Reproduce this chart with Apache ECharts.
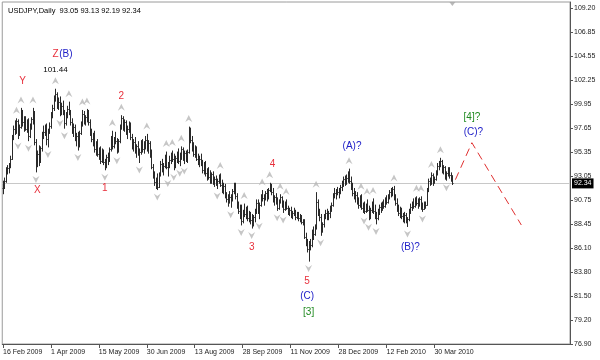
<!DOCTYPE html>
<html><head><meta charset="utf-8">
<script src="https://cdn.jsdelivr.net/npm/echarts@6/dist/echarts.min.js"></script>
<style>html,body{margin:0;padding:0;background:#fff}#c{width:600px;height:360px}</style>
</head><body><div id="c"></div>
<script>
const symbolName = 'USDJPY,Daily';
const openP = [91.9,92.3,92.6,93.6,93.8,94.1,94.7,96.8,97.6,97.4,98.3,97.2,97.8,99.2,98.2,98.5,97.6,98.2,96.9,97.9,98.5,98.9,96.3,94.3,95.2,94.6,95.7,97.1,97.3,97.8,96.6,97.4,97.9,98.9,99.6,100.5,100.9,99.9,100.2,99.3,99.8,99.1,98.1,98.9,99.5,99.1,98.2,97.4,97.8,96.7,96.9,96.0,97.2,98.1,99.0,98.3,98.7,99.2,98.2,97.2,96.6,96.9,95.6,96.1,95.2,95.5,94.5,95.4,94.4,94.0,94.9,94.6,95.6,96.7,95.9,96.5,96.4,95.5,96.4,97.8,98.6,97.7,98.2,97.3,97.6,97.9,96.8,95.9,96.3,95.5,95.9,95.3,95.4,96.2,95.6,96.1,96.5,95.8,96.2,95.0,93.9,93.1,92.5,92.6,92.0,93.2,94.2,93.7,94.0,94.9,93.9,94.2,94.6,95.0,94.7,94.0,94.8,95.1,94.5,95.0,95.6,94.8,95.3,94.6,95.4,97.5,96.5,95.7,95.2,95.6,94.7,94.4,94.7,94.3,93.6,94.1,93.3,93.5,93.0,92.6,93.2,92.5,92.8,92.3,92.6,93.0,92.2,91.7,92.1,91.2,90.8,90.9,91.0,90.9,91.6,92.0,91.1,90.2,89.7,90.0,88.7,89.6,89.4,89.8,89.0,89.4,88.8,88.3,89.1,89.7,90.5,89.8,90.3,91.1,90.9,91.0,91.4,90.9,91.7,92.2,91.5,90.8,91.0,90.5,90.0,90.6,91.0,90.2,89.9,90.3,90.0,89.5,89.8,89.3,89.5,89.7,89.1,89.4,89.0,89.1,88.6,88.7,87.2,86.6,86.0,86.2,86.4,87.6,87.5,88.1,90.6,89.5,89.1,87.8,88.4,89.2,89.5,89.0,89.5,89.9,90.3,91.2,91.4,91.6,91.5,91.7,92.0,92.3,92.8,92.4,92.9,93.1,92.6,92.0,91.4,91.1,91.2,90.6,90.3,90.9,90.0,90.2,89.7,90.1,89.8,89.1,89.8,90.3,89.7,89.2,89.0,89.6,90.1,89.9,90.4,90.2,90.8,90.6,91.1,91.5,91.3,91.8,91.0,90.5,89.9,89.5,89.8,89.2,88.9,89.3,88.7,88.9,89.7,90.1,90.4,90.2,90.7,90.5,90.3,90.8,90.1,89.9,90.4,90.3,91.7,92.6,92.4,93.1,92.5,92.8,93.4,94.0,94.2,94.5,93.6,93.9,93.0,93.3,93.7,93.1,93.05];
const highP = [92.6,92.9,93.9,94.1,94.3,95.0,97.0,97.9,98.4,98.6,98.5,98.0,99.6,99.4,98.8,98.8,98.5,98.6,98.1,98.7,99.6,99.3,96.6,95.5,96.0,95.9,97.3,97.9,98.0,98.1,97.6,98.2,99.2,99.9,100.8,101.44,101.1,100.6,100.7,100.1,100.3,99.4,99.2,99.8,100.2,99.4,98.6,98.1,98.0,97.2,97.3,97.4,98.3,99.4,99.3,98.9,99.5,99.4,98.5,97.6,97.2,97.4,96.4,96.6,95.8,95.9,95.7,95.6,94.7,95.1,95.3,95.8,96.9,97.4,96.8,97.3,96.7,96.6,98.0,98.9,98.8,98.5,98.4,97.9,98.3,98.2,97.1,96.6,96.8,96.1,96.4,95.7,96.5,96.6,96.4,96.9,97.1,96.5,96.4,95.6,94.2,93.5,92.9,93.3,93.4,94.5,94.7,94.3,95.1,95.4,94.4,95.0,95.3,95.5,95.2,95.0,95.4,95.7,95.3,95.9,95.8,95.5,95.5,95.6,97.8,97.7,96.9,96.3,96.0,95.9,95.2,95.0,95.2,94.6,94.4,94.5,93.8,93.9,93.6,93.4,93.5,93.0,93.1,92.8,93.2,93.3,92.7,92.4,92.3,91.5,91.3,91.6,91.3,91.8,92.4,92.4,91.4,90.6,90.3,90.3,89.8,90.4,90.1,90.2,89.7,89.6,89.4,89.3,89.9,90.8,90.8,90.5,91.3,91.7,91.3,91.6,91.8,91.9,92.4,92.3,91.9,91.2,91.4,91.0,90.8,91.3,91.1,90.7,90.6,90.8,90.2,90.0,90.1,89.7,90.0,89.8,89.6,89.6,89.4,89.3,88.9,88.9,87.6,87.0,86.8,87.0,87.9,88.2,88.4,91.5,90.8,89.9,89.4,88.6,89.4,89.8,89.9,89.7,90.2,90.5,91.4,91.9,91.8,92.0,91.9,92.2,92.6,93.0,93.1,93.2,93.5,93.76,93.0,92.4,91.9,91.6,91.5,91.0,91.2,91.3,90.5,90.6,90.4,90.8,90.2,90.0,90.6,90.9,90.3,89.6,89.9,90.3,90.5,90.6,90.8,91.0,91.2,91.3,91.7,91.9,92.0,92.1,91.3,90.9,90.3,90.1,90.0,89.5,89.6,89.5,89.1,89.9,90.4,90.6,90.9,91.0,91.1,90.9,91.0,91.1,90.5,90.6,90.6,91.9,92.8,92.9,93.4,93.3,93.0,93.6,94.3,94.5,94.8,94.6,94.1,94.0,93.5,93.9,93.9,93.4,93.13];
const lowP = [91.3,91.8,92.4,93.2,93.3,93.8,94.6,96.5,97.0,97.1,96.6,96.9,97.6,97.8,97.3,97.4,97.2,96.4,96.7,97.5,98.0,96.0,93.4,93.9,94.0,94.3,95.4,96.6,96.9,96.0,95.8,97.1,97.6,98.6,99.3,100.2,99.5,99.4,98.8,98.9,98.9,97.6,97.9,98.6,98.9,97.9,97.1,96.8,96.4,95.9,95.5,95.8,97.0,97.8,98.0,97.9,98.2,97.9,96.9,96.3,95.9,95.3,95.0,94.9,94.6,94.2,94.3,94.1,93.6,93.8,94.1,94.4,95.4,95.6,95.7,96.1,95.2,95.3,96.2,97.5,97.4,97.3,97.0,96.6,97.2,96.5,95.6,95.4,95.2,94.8,95.0,94.3,95.1,95.3,95.2,95.6,95.4,95.2,94.8,93.7,92.8,92.1,91.8,91.7,91.9,93.0,93.4,93.1,93.8,93.7,93.0,93.8,94.2,94.4,93.6,93.8,94.3,94.2,94.0,94.6,94.5,94.2,94.4,94.3,95.2,96.2,95.4,94.9,94.8,94.5,94.1,93.9,94.0,93.3,93.2,93.0,92.6,92.7,92.3,92.3,92.2,92.0,92.1,91.8,92.3,92.0,91.4,91.3,90.9,90.5,90.1,90.4,90.0,90.6,91.3,90.8,89.9,89.4,88.9,88.3,88.5,89.1,88.9,88.7,88.6,88.4,88.0,88.2,88.6,89.4,89.4,88.9,90.1,90.6,90.2,90.7,90.6,90.8,91.5,91.2,90.5,90.2,90.3,89.7,89.8,90.4,90.0,89.5,89.7,89.8,89.3,89.2,89.0,88.9,89.2,88.8,88.9,88.7,88.6,88.4,88.3,87.0,86.3,85.7,84.82,85.9,86.2,86.9,87.3,87.9,89.2,88.7,87.3,87.6,88.1,88.9,88.8,88.8,89.0,89.6,90.1,90.9,90.8,91.2,90.9,91.3,91.6,92.0,92.1,92.2,92.4,92.3,91.7,91.1,90.8,90.5,90.3,89.9,90.0,89.8,89.5,89.4,89.5,89.6,88.8,88.9,89.5,89.4,88.9,88.4,88.8,89.3,89.5,89.7,89.9,90.0,90.3,90.4,90.8,91.0,91.1,90.7,90.2,89.6,89.2,89.0,88.9,88.6,88.5,88.5,88.15,88.7,89.4,89.7,89.9,90.0,90.2,89.9,90.1,89.8,89.6,89.8,89.9,90.2,91.5,92.1,92.2,92.1,92.3,92.6,93.1,93.6,93.9,93.3,93.2,92.7,92.6,93.0,92.8,92.5,92.19];
const closeP = [92.3,92.6,93.6,93.8,94.1,94.7,96.8,97.6,97.4,98.3,97.2,97.8,99.2,98.2,98.5,97.6,98.2,96.9,97.9,98.5,98.9,96.3,94.3,95.2,94.6,95.7,97.1,97.3,97.8,96.6,97.4,97.9,98.9,99.6,100.5,100.9,99.9,100.2,99.3,99.8,99.1,98.1,98.9,99.5,99.1,98.2,97.4,97.8,96.7,96.9,96.0,97.2,98.1,99.0,98.3,98.7,99.2,98.2,97.2,96.6,96.9,95.6,96.1,95.2,95.5,94.5,95.4,94.4,94.0,94.9,94.6,95.6,96.7,95.9,96.5,96.4,95.5,96.4,97.8,98.6,97.7,98.2,97.3,97.6,97.9,96.8,95.9,96.3,95.5,95.9,95.3,95.4,96.2,95.6,96.1,96.5,95.8,96.2,95.0,93.9,93.1,92.5,92.6,92.0,93.2,94.2,93.7,94.0,94.9,93.9,94.2,94.6,95.0,94.7,94.0,94.8,95.1,94.5,95.0,95.6,94.8,95.3,94.6,95.4,97.5,96.5,95.7,95.2,95.6,94.7,94.4,94.7,94.3,93.6,94.1,93.3,93.5,93.0,92.6,93.2,92.5,92.8,92.3,92.6,93.0,92.2,91.7,92.1,91.2,90.8,90.9,91.0,90.9,91.6,92.0,91.1,90.2,89.7,90.0,88.7,89.6,89.4,89.8,89.0,89.4,88.8,88.3,89.1,89.7,90.5,89.8,90.3,91.1,90.9,91.0,91.4,90.9,91.7,92.2,91.5,90.8,91.0,90.5,90.0,90.6,91.0,90.2,89.9,90.3,90.0,89.5,89.8,89.3,89.5,89.7,89.1,89.4,89.0,89.1,88.6,88.7,87.2,86.6,86.0,86.2,86.4,87.6,87.5,88.1,90.6,89.5,89.1,87.8,88.4,89.2,89.5,89.0,89.5,89.9,90.3,91.2,91.4,91.6,91.5,91.7,92.0,92.3,92.8,92.4,92.9,93.1,92.6,92.0,91.4,91.1,91.2,90.6,90.3,90.9,90.0,90.2,89.7,90.1,89.8,89.1,89.8,90.3,89.7,89.2,89.0,89.6,90.1,89.9,90.4,90.2,90.8,90.6,91.1,91.5,91.3,91.8,91.0,90.5,89.9,89.5,89.8,89.2,88.9,89.3,88.7,88.9,89.7,90.1,90.4,90.2,90.7,90.5,90.3,90.8,90.1,89.9,90.4,90.3,91.7,92.6,92.4,93.1,92.5,92.8,93.4,94.0,94.2,94.5,93.6,93.9,93.0,93.3,93.7,93.1,93.05,92.34];

const xTickLabels = ['16 Feb 2009','1 Apr 2009','15 May 2009','30 Jun 2009','13 Aug 2009','28 Sep 2009','11 Nov 2009','28 Dec 2009','12 Feb 2010','30 Mar 2010'];
const barsPerTick = 32;
const slotCount = 379;
const yTickLabels = ['76.90','79.20','81.50','83.80','86.10','88.45','90.75','93.05','95.35','97.65','99.95','102.25','104.55','106.85','109.20'];
const yMin = 76.90, yMax = 109.78;

const projX = [302, 313, 346];
const projY = [92.7, 96.25, 88.34];

const waveText   = ['Y','Z','(B)','101.44','2','X','1','4','(A)?','3','5','(C)','[3]','(B)?','[4]?','(C)?'];
const waveX      = [13,35,42,35,79,23,68,180,233,166,203,203,204,272,313,314];
const waveY      = [102.12,104.75,104.75,103.31,100.74,91.70,91.87,94.20,95.87,86.20,82.96,81.45,79.91,86.20,98.69,97.25];
const waveDegree = ['minor','minor','inter','price','minor','minor','minor','minor','inter','minor','minor','inter','primary','inter','primary','inter'];

const FONT = 'Liberation Sans, Arial, sans-serif';
const degreeColor = {minor:'#e8303c', inter:'#2020c8', primary:'#208a20', price:'#000'};

const n = closeP.length;
const slots = [];
for (let i = 0; i < slotCount; i++) slots.push(String(i));
const ohlc = [];
for (let i = 0; i < n; i++) ohlc.push([i, openP[i], closeP[i], lowP[i], highP[i]]);

const upFr = [], dnFr = [];
for (let i = 2; i < n - 2; i++) {
  if (highP[i] > highP[i-1] && highP[i] > highP[i-2] && highP[i] > highP[i+1] && highP[i] > highP[i+2]) upFr.push([i, highP[i]]);
  if (lowP[i] < lowP[i-1] && lowP[i] < lowP[i-2] && lowP[i] < lowP[i+1] && lowP[i] < lowP[i+2]) dnFr.push([i, lowP[i]]);
}
const yVals = yTickLabels.map(parseFloat);
const tickShown = (i) => i % barsPerTick === 0 && (i / barsPerTick) < xTickLabels.length;

const waveData = waveText.map((t, k) => [waveX[k], waveY[k], k]);

const last = n - 1;
const titleText = symbolName + '  ' + [openP[last], highP[last], lowP[last], closeP[last]].map(v => v.toFixed(2)).join(' ');

const chart = echarts.init(document.getElementById('c'), null, {renderer: 'canvas'});
chart.setOption({
  animation: false,
  backgroundColor: '#fff',
  title: {text: titleText, left: 3, top: 2, textStyle: {fontSize: 7.5, fontWeight: 'normal', color: '#000', fontFamily: FONT}},
  grid: {left: 2, right: 30, top: 2, bottom: 16, show: true, borderColor: '#9a9a9a', borderWidth: 1, containLabel: false},
  xAxis: {
    type: 'category', data: slots, boundaryGap: true,
    axisLine: {show: true, lineStyle: {color: '#555', width: 1}},
    axisTick: {show: true, interval: (i) => tickShown(i), alignWithLabel: true, length: 4, lineStyle: {color: '#555'}},
    axisLabel: {interval: (i) => tickShown(i), formatter: (v, i) => tickShown(i) ? xTickLabels[i / barsPerTick] : '',
      align: 'left', fontSize: 7, color: '#222', margin: 5, fontFamily: FONT},
    splitLine: {show: false}
  },
  yAxis: {
    type: 'value', position: 'right', min: yMin, max: yMax,
    axisLine: {show: true, lineStyle: {color: '#555', width: 1}},
    axisTick: {show: true, length: 3, customValues: yVals, lineStyle: {color: '#555'}},
    axisLabel: {customValues: yVals, fontSize: 7, color: '#222', margin: 4, fontFamily: FONT,
      formatter: (v) => { let b = 0; for (let k = 1; k < yVals.length; k++) if (Math.abs(yVals[k] - v) < Math.abs(yVals[b] - v)) b = k; return yTickLabels[b]; }},
    splitLine: {show: false}
  },
  series: [
    {
      type: 'line', data: projX.map((x, k) => [x, projY[k]]), symbol: 'none', silent: true, z: 3,
      lineStyle: {color: '#e03030', width: 1, type: [8, 5]},
      markLine: {
        silent: true, symbol: ['none', 'none'], z: 1,
        lineStyle: {color: '#c8c8c8', width: 1, type: 'solid'},
        label: {show: true, position: 'end', distance: 2, formatter: closeP[last].toFixed(2), backgroundColor: '#000',
          color: '#fff', fontSize: 7, padding: [2, 2, 1, 2], fontFamily: FONT},
        data: [{yAxis: closeP[last]}]
      }
    },
    {
      type: 'custom', data: ohlc, z: 4, silent: true,
      renderItem: function (params, api) {
        const i = api.value(0);
        const o = api.coord([i, api.value(1)]);
        const c = api.coord([i, api.value(2)]);
        const l = api.coord([i, api.value(3)]);
        const h = api.coord([i, api.value(4)]);
        const px = Math.round(o[0]) + 0.5;
        const st = {stroke: '#2a2a2a', lineWidth: 1};
        return {type: 'group', children: [
          {type: 'line', shape: {x1: px, y1: h[1], x2: px, y2: l[1]}, style: st},
          {type: 'line', shape: {x1: px - 1, y1: Math.round(o[1]) + 0.5, x2: px, y2: Math.round(o[1]) + 0.5}, style: st},
          {type: 'line', shape: {x1: px, y1: Math.round(c[1]) + 0.5, x2: px + 1, y2: Math.round(c[1]) + 0.5}, style: st}
        ]};
      }
    },
    {
      type: 'scatter', data: upFr, silent: true, z: 5,
      symbol: 'path://M5,0 L10,9 L5,6 L0,9 Z', symbolSize: [7, 7], symbolOffset: [0, -8],
      itemStyle: {color: '#b8b8b8'}
    },
    {
      type: 'scatter', data: dnFr, silent: true, z: 5,
      symbol: 'path://M0,0 L5,3 L10,0 L5,9 Z', symbolSize: [7, 7], symbolOffset: [0, 7],
      itemStyle: {color: '#b8b8b8'}
    },
    {
      type: 'scatter', data: [[last, yMax]], silent: true, z: 5,
      symbol: 'triangle', symbolRotate: 180, symbolSize: [6, 4], symbolOffset: [0, 2],
      itemStyle: {color: '#a8a8a8'}
    },
    {
      type: 'custom', data: waveData, silent: true, z: 6,
      renderItem: function (params, api) {
        const k = api.value(2);
        const p = api.coord([api.value(0), api.value(1)]);
        const deg = waveDegree[k];
        return {type: 'text', x: p[0], y: p[1], style: {
          text: waveText[k], fill: degreeColor[deg], align: 'center', verticalAlign: 'middle',
          fontSize: deg === 'price' ? 8 : 10, fontFamily: FONT
        }};
      }
    }
  ]
});
</script></body></html>
